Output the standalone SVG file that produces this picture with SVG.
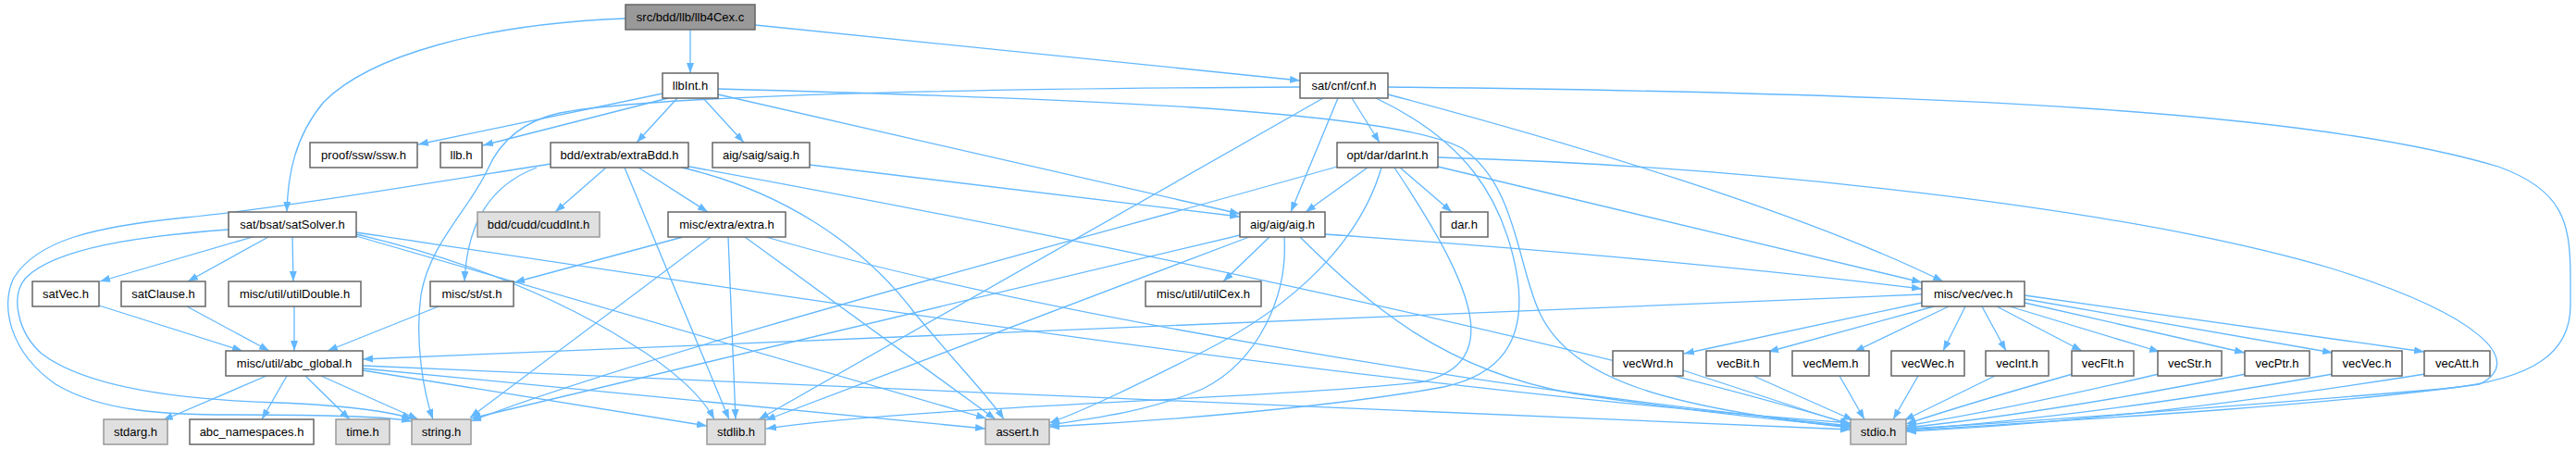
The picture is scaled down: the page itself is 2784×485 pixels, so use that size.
<svg xmlns="http://www.w3.org/2000/svg" width="2784" height="485" viewBox="0 0 2784 485">
<defs>
<marker id="ah" markerUnits="userSpaceOnUse" markerWidth="12" markerHeight="9" refX="11" refY="4" orient="auto">
<path d="M0,0 L11,4 L0,8 z" fill="#63b8ff"/>
</marker>
<style>
.e path{fill:none;stroke:#63b8ff;stroke-width:1.3;marker-end:url(#ah)}
g.n rect{fill:#ffffff;stroke:#666666;stroke-width:1.5}
g.g rect{fill:#e0e0e0;stroke:#999999;stroke-width:1.5}
g.r rect{fill:#999999;stroke:#666666;stroke-width:1.5}
text{font-family:"Liberation Sans",Arial,sans-serif;font-size:13px;fill:#000;text-anchor:middle}
</style>
</defs>
<rect width="2784" height="485" fill="#fff"/>
<g class="e">
<path d="M746,32 L746,79"/>
<path d="M676,20 C520,26 400,60 350,110 C318,148 311,190 310,229"/>
<path d="M816,27 L1405,87"/>
<path d="M716,101 L452,156"/>
<path d="M722,106 L522,157"/>
<path d="M732,106 L688,154"/>
<path d="M760,106 L804,154"/>
<path d="M776,102 L1340,231"/>
<path d="M776,96 C1150,106 1500,118 1580,160 C1640,200 1640,290 1665,340 C1700,410 1800,440 2000,462"/>
<path d="M875,178 L1340,234"/>
<path d="M1405,94 C1000,96 700,104 605,122 C560,132 538,158 527,183 C508,225 465,262 455,318 C448,370 458,425 468,453"/>
<path d="M1430,106 L820,453"/>
<path d="M1446,106 L1395,229"/>
<path d="M1461,106 L1491,154"/>
<path d="M1487,106 C1580,150 1625,210 1640,300 C1650,370 1620,405 1560,418 C1440,440 1250,455 1134,461"/>
<path d="M1500,102 C1700,155 1950,230 2100,304"/>
<path d="M1500,94 C2100,100 2500,120 2700,180 C2770,205 2778,240 2778,300 L2778,330 C2778,380 2740,410 2640,420 C2400,440 2200,455 2060,463"/>
<path d="M1478,181 L1411,229"/>
<path d="M1513,181 L1569,229"/>
<path d="M1554,180 L2077,305"/>
<path d="M1554,170 C1900,180 2300,225 2520,290 C2680,340 2730,390 2680,415 C2500,440 2200,456 2060,465"/>
<path d="M1445,180 C1200,250 700,380 509,455"/>
<path d="M1507,181 C1600,320 1620,390 1540,412 C1400,430 1000,438 828,463"/>
<path d="M1493,181 C1470,260 1400,330 1300,380 C1230,415 1180,440 1134,457"/>
<path d="M1372,256 L1322,304"/>
<path d="M1432,253 C1700,272 1900,290 2077,312"/>
<path d="M1340,254 L509,452"/>
<path d="M1350,256 L827,454"/>
<path d="M1388,256 C1392,320 1360,390 1300,420 C1240,445 1180,452 1134,459"/>
<path d="M1405,256 C1480,330 1560,400 1700,425 C1800,440 1900,452 2000,461"/>
<path d="M595,177 C450,200 300,225 200,235 C100,245 40,260 15,300 C0,330 10,380 60,415 C110,445 180,448 250,448 C350,448 420,450 445,455"/>
<path d="M580,181 C530,200 505,240 502,304"/>
<path d="M655,181 L600,229"/>
<path d="M675,181 L788,453"/>
<path d="M690,181 L765,229"/>
<path d="M737,181 C840,205 930,260 990,340 C1040,400 1070,430 1085,453"/>
<path d="M745,180 C1200,263 1700,370 2000,458"/>
<path d="M738,256 L556,305"/>
<path d="M768,256 L508,451"/>
<path d="M787,256 L795,453"/>
<path d="M805,256 L1076,453"/>
<path d="M828,256 C1100,335 1600,420 2000,460"/>
<path d="M273,256 L108,304"/>
<path d="M290,256 L203,304"/>
<path d="M316,256 L317,304"/>
<path d="M247,248 C150,255 60,268 28,300 C10,320 20,360 45,382 C95,420 200,432 300,435 C380,438 430,446 445,453"/>
<path d="M385,253 C500,280 600,320 680,370 C730,400 760,430 772,453"/>
<path d="M385,255 L1066,452"/>
<path d="M385,251 C900,328 1500,420 2000,457"/>
<path d="M107,330 L262,379"/>
<path d="M202,331 L291,379"/>
<path d="M318,331 L318,379"/>
<path d="M474,331 L354,379"/>
<path d="M288,406 L176,454"/>
<path d="M310,406 L283,453"/>
<path d="M330,406 L378,453"/>
<path d="M347,406 L452,453"/>
<path d="M392,400 L764,460"/>
<path d="M392,398 L1065,463"/>
<path d="M392,395 C900,420 1500,440 2000,464"/>
<path d="M2077,318 L392,388"/>
<path d="M2077,327 L1820,382"/>
<path d="M2090,331 L1911,380"/>
<path d="M2106,331 L2004,380"/>
<path d="M2124,331 L2100,379"/>
<path d="M2142,331 L2168,379"/>
<path d="M2158,331 L2250,379"/>
<path d="M2172,331 L2334,380"/>
<path d="M2188,327 L2426,381"/>
<path d="M2188,323 L2521,381"/>
<path d="M2188,319 L2620,380"/>
<path d="M1819,400 L2000,459"/>
<path d="M1895,406 L2003,454"/>
<path d="M1988,406 L2015,453"/>
<path d="M2073,406 L2046,453"/>
<path d="M2156,406 L2058,454"/>
<path d="M2240,404 Q2130,435 2060,458"/>
<path d="M2333,404 Q2180,440 2060,460"/>
<path d="M2427,404 Q2220,445 2060,462"/>
<path d="M2521,404 Q2260,450 2060,464"/>
<path d="M2621,404 Q2300,455 2060,466"/>
</g>
<g id="root" class="r"><rect x="676" y="5" width="140" height="27"/><text x="746" y="23">src/bdd/llb/llb4Cex.c</text></g>
<g id="llbInt" class="n"><rect x="716" y="79" width="60" height="27"/><text x="746" y="97">llbInt.h</text></g>
<g id="cnf" class="n"><rect x="1405" y="79" width="95" height="27"/><text x="1452.5" y="97">sat/cnf/cnf.h</text></g>
<g id="ssw" class="n"><rect x="335" y="154" width="116" height="27"/><text x="393" y="172">proof/ssw/ssw.h</text></g>
<g id="llb" class="n"><rect x="476" y="154" width="45" height="27"/><text x="498.5" y="172">llb.h</text></g>
<g id="extraBdd" class="n"><rect x="595" y="154" width="149" height="27"/><text x="669.5" y="172">bdd/extrab/extraBdd.h</text></g>
<g id="saig" class="n"><rect x="770" y="154" width="105" height="27"/><text x="822.5" y="172">aig/saig/saig.h</text></g>
<g id="darInt" class="n"><rect x="1445" y="154" width="109" height="27"/><text x="1499.5" y="172">opt/dar/darInt.h</text></g>
<g id="satSolver" class="n"><rect x="247" y="229" width="138" height="27"/><text x="316" y="247">sat/bsat/satSolver.h</text></g>
<g id="cuddInt" class="g"><rect x="516" y="229" width="132" height="27"/><text x="582" y="247">bdd/cudd/cuddInt.h</text></g>
<g id="extra" class="n"><rect x="722" y="229" width="127" height="27"/><text x="785.5" y="247">misc/extra/extra.h</text></g>
<g id="aig" class="n"><rect x="1340" y="229" width="92" height="27"/><text x="1386" y="247">aig/aig/aig.h</text></g>
<g id="dar" class="n"><rect x="1557" y="229" width="51" height="27"/><text x="1582.5" y="247">dar.h</text></g>
<g id="satVec" class="n"><rect x="35" y="304" width="72" height="27"/><text x="71" y="322">satVec.h</text></g>
<g id="satClause" class="n"><rect x="131" y="304" width="91" height="27"/><text x="176.5" y="322">satClause.h</text></g>
<g id="utilDouble" class="n"><rect x="247" y="304" width="143" height="27"/><text x="318.5" y="322">misc/util/utilDouble.h</text></g>
<g id="st" class="n"><rect x="465" y="304" width="90" height="27"/><text x="510" y="322">misc/st/st.h</text></g>
<g id="utilCex" class="n"><rect x="1238" y="304" width="125" height="27"/><text x="1300.5" y="322">misc/util/utilCex.h</text></g>
<g id="vec" class="n"><rect x="2077" y="304" width="111" height="27"/><text x="2132.5" y="322">misc/vec/vec.h</text></g>
<g id="abc_global" class="n"><rect x="244" y="379" width="148" height="27"/><text x="318" y="397">misc/util/abc_global.h</text></g>
<g id="vecWrd" class="n"><rect x="1743" y="379" width="76" height="27"/><text x="1781" y="397">vecWrd.h</text></g>
<g id="vecBit" class="n"><rect x="1844" y="379" width="69" height="27"/><text x="1878.5" y="397">vecBit.h</text></g>
<g id="vecMem" class="n"><rect x="1937" y="379" width="83" height="27"/><text x="1978.5" y="397">vecMem.h</text></g>
<g id="vecWec" class="n"><rect x="2044" y="379" width="79" height="27"/><text x="2083.5" y="397">vecWec.h</text></g>
<g id="vecInt" class="n"><rect x="2146" y="379" width="68" height="27"/><text x="2180" y="397">vecInt.h</text></g>
<g id="vecFlt" class="n"><rect x="2239" y="379" width="67" height="27"/><text x="2272.5" y="397">vecFlt.h</text></g>
<g id="vecStr" class="n"><rect x="2332" y="379" width="69" height="27"/><text x="2366.5" y="397">vecStr.h</text></g>
<g id="vecPtr" class="n"><rect x="2426" y="379" width="70" height="27"/><text x="2461" y="397">vecPtr.h</text></g>
<g id="vecVec" class="n"><rect x="2520" y="379" width="76" height="27"/><text x="2558" y="397">vecVec.h</text></g>
<g id="vecAtt" class="n"><rect x="2620" y="379" width="71" height="27"/><text x="2655.5" y="397">vecAtt.h</text></g>
<g id="stdarg" class="g"><rect x="112" y="453" width="69" height="27"/><text x="146.5" y="471">stdarg.h</text></g>
<g id="abc_namespaces" class="n"><rect x="205" y="453" width="134" height="27"/><text x="272" y="471">abc_namespaces.h</text></g>
<g id="time" class="g"><rect x="363" y="453" width="58" height="27"/><text x="392" y="471">time.h</text></g>
<g id="string" class="g"><rect x="445" y="453" width="64" height="27"/><text x="477" y="471">string.h</text></g>
<g id="stdlib" class="g"><rect x="764" y="453" width="63" height="27"/><text x="795.5" y="471">stdlib.h</text></g>
<g id="assert" class="g"><rect x="1065" y="453" width="69" height="27"/><text x="1099.5" y="471">assert.h</text></g>
<g id="stdio" class="g"><rect x="2000" y="453" width="60" height="27"/><text x="2030" y="471">stdio.h</text></g>
</svg>
